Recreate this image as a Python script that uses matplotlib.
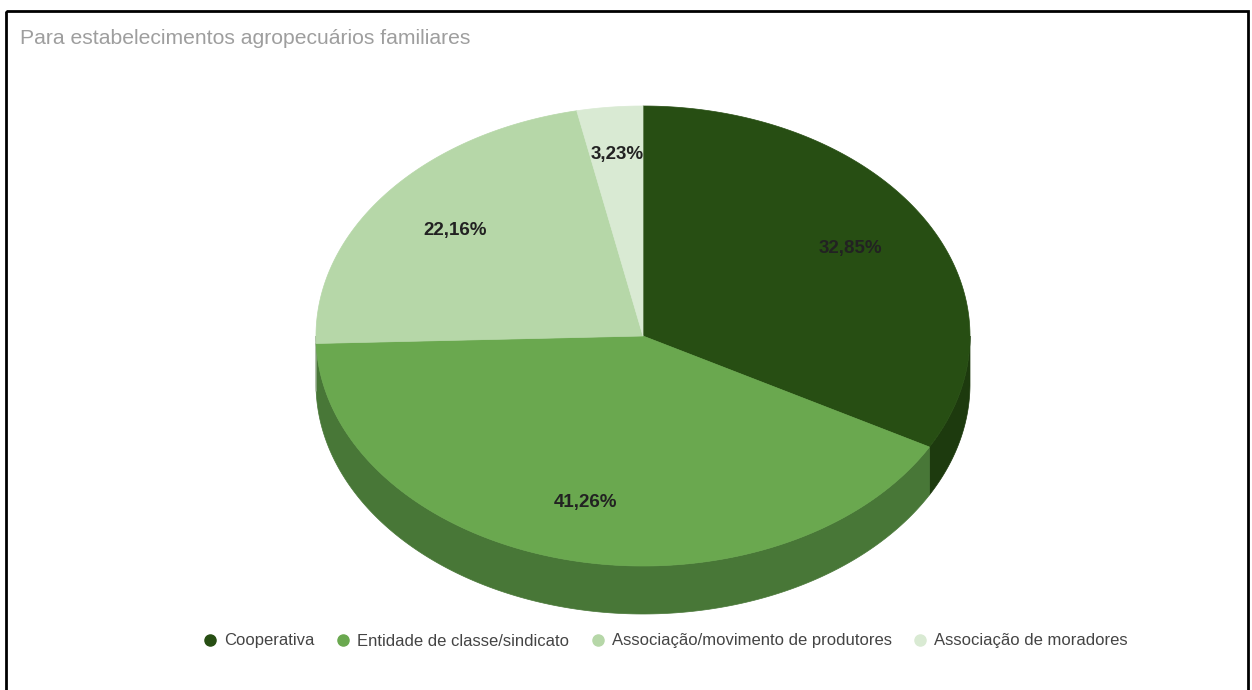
import numpy as np
import matplotlib.pyplot as plt
from matplotlib.patches import Polygon, Rectangle
from matplotlib.lines import Line2D

plt.rcParams['font.family'] = ['Liberation Sans', 'DejaVu Sans']

categories = ["Cooperativa", "Entidade de classe/sindicato",
              "Associação/movimento de produtores", "Associação de moradores"]
values = [32.85, 41.26, 22.16, 3.23]
labels = ["32,85%", "41,26%", "22,16%", "3,23%"]
colors = ["#274e13", "#6aa84f", "#b6d7a8", "#d9ead3"]
side_colors = ["#1d3a0e", "#487737", "#88a17e", "#a3af9e"]
subtitle = "Para estabelecimentos agropecuários familiares"

W, H = 1252, 690
fig = plt.figure(figsize=(W / 100, H / 100), dpi=100)
ax = fig.add_axes([0, 0, 1, 1])
ax.set_xlim(0, W)
ax.set_ylim(H, 0)
ax.axis("off")

# pie geometry (pixel space)
cx, cy, rx, ry, depth = 643, 336, 327, 230, 48


def arc(p0, p1, n=200):
    phi = np.radians(np.linspace(p0, p1, n))
    return np.column_stack([cx + rx * np.cos(phi), cy - ry * np.sin(phi)])


fracs = np.array(values) / np.sum(values)
starts = np.concatenate([[0], np.cumsum(fracs)[:-1]]) * 360
ends = np.cumsum(fracs) * 360

# side walls (front half only)
for s, e, sc in zip(starts, ends, side_colors):
    p0, p1 = 90 - s, 90 - e
    hi, lo = min(p0, 0), max(p1, -180)
    if lo < hi:
        top = arc(hi, lo)
        bot = top[::-1] + [0, depth]
        ax.add_patch(Polygon(np.vstack([top, bot]), closed=True,
                             facecolor=sc, edgecolor=sc, lw=0.5))

# top face
for s, e, c in zip(starts, ends, colors):
    pts = np.vstack([[cx, cy], arc(90 - s, 90 - e), [cx, cy]])
    ax.add_patch(Polygon(pts, closed=True, facecolor=c, edgecolor=c, lw=0.5))

# percentage labels
label_pos = [(850, 249), (585, 503), (455, 230), (617, 154)]
for (x, y), lab in zip(label_pos, labels):
    ax.text(x, y, lab, ha="center", va="center", fontsize=13.5,
            fontweight="bold", color="#222222")

ax.text(20, 38, subtitle, ha="left", va="center", fontsize=15.2,
        color="#9e9e9e")

# border
ax.add_patch(Rectangle((6, 11), 1242, 700, fill=False, edgecolor="black",
                       lw=2, clip_on=False))

handles = [Line2D([], [], marker="o", ls="", markersize=8, color=c)
           for c in colors]
fig.legend(handles, categories, loc="center", bbox_to_anchor=(0.531, 1 - 641 / H),
           ncol=4, frameon=False, fontsize=12, labelcolor="#444444",
           handletextpad=0.35, columnspacing=1.2, handlelength=1.0)

fig.savefig("out.png", dpi=100)
